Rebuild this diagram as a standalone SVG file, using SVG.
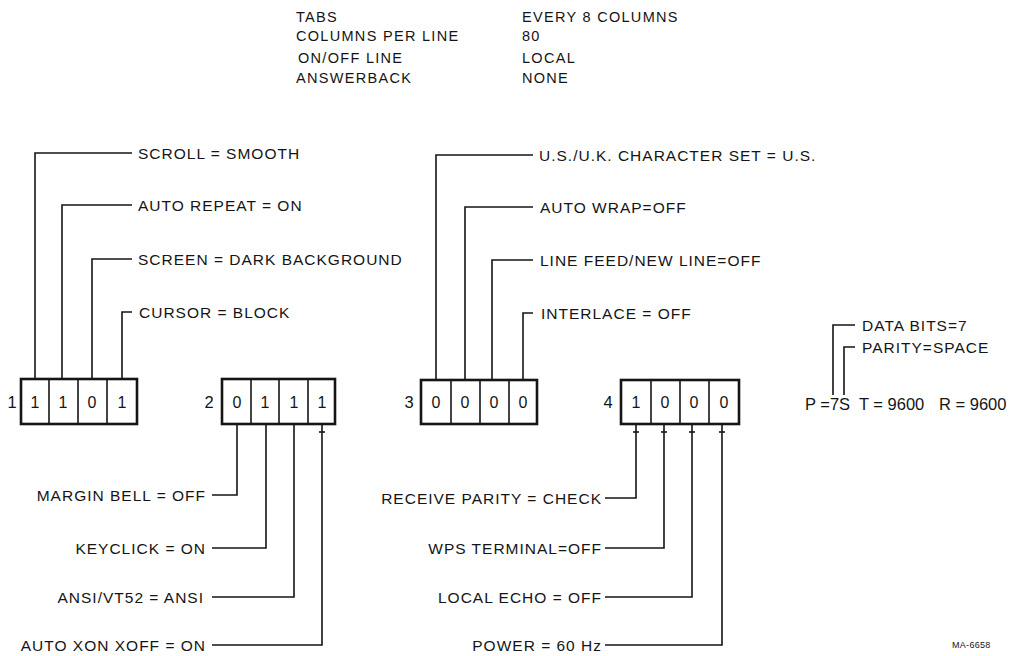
<svg xmlns="http://www.w3.org/2000/svg" width="1014" height="656" viewBox="0 0 1014 656">
<style>
text{font-family:"Liberation Sans",Arial,sans-serif;fill:#151515;font-size:15.5px;letter-spacing:1px}
.top{font-size:14.5px;letter-spacing:1.3px}
.end{text-anchor:end}
.num{font-size:16.5px;text-anchor:middle;letter-spacing:0}
.dig{font-size:16px;text-anchor:middle;letter-spacing:0}
.box{fill:#fff;stroke:#151515;stroke-width:2.6}
.div{stroke:#151515;stroke-width:1.6}
.ln{fill:none;stroke:#151515;stroke-width:1.6}
.big{font-size:16.5px;letter-spacing:0}
.small{font-size:9px;letter-spacing:0.3px}
</style>
<rect width="1014" height="656" fill="#fff"/>
<g id="settings">
<text class="top" x="296" y="22">TABS</text>
<text class="top" x="296" y="41">COLUMNS PER LINE</text>
<text class="top" x="298" y="63">ON/OFF LINE</text>
<text class="top" x="296" y="83">ANSWERBACK</text>
<text class="top" x="522" y="22">EVERY 8 COLUMNS</text>
<text class="top" x="522" y="41">80</text>
<text class="top" x="522" y="63">LOCAL</text>
<text class="top" x="522" y="83">NONE</text>
</g>
<g id="connectors">
<polyline class="ln" points="35,379 35,153 132,153"/>
<polyline class="ln" points="62,379 62,205 132,205"/>
<polyline class="ln" points="92,379 92,259 132,259"/>
<polyline class="ln" points="122,379 122,312 132,312"/>
<polyline class="ln" points="237,424 237,495 212,495"/>
<polyline class="ln" points="266,424 266,548 212,548"/>
<polyline class="ln" points="294,424 294,597 212,597"/>
<polyline class="ln" points="322,424 322,645 212,645"/>
<line class="ln" x1="319" y1="432" x2="325" y2="432"/>
<polyline class="ln" points="436,380 436,155 533,155"/>
<polyline class="ln" points="465,380 465,207 533,207"/>
<polyline class="ln" points="492,380 492,260 533,260"/>
<polyline class="ln" points="523,380 523,313 533,313"/>
<polyline class="ln" points="636,424 636,498 605,498"/>
<polyline class="ln" points="664,424 664,548 605,548"/>
<polyline class="ln" points="692,424 692,597 605,597"/>
<polyline class="ln" points="722,424 722,645 605,645"/>
<line class="ln" x1="633" y1="432" x2="639" y2="432"/>
<line class="ln" x1="661" y1="432" x2="667" y2="432"/>
<line class="ln" x1="689" y1="432" x2="695" y2="432"/>
<line class="ln" x1="719" y1="432" x2="725" y2="432"/>
<polyline class="ln" points="833,395 833,325 855,325"/>
<polyline class="ln" points="844,395 844,347 855,347"/>
</g>
<g id="switch1">
<text class="num" x="12" y="408">1</text>
<rect class="box" x="21" y="379" width="116" height="45"/>
<line class="div" x1="49" y1="379" x2="49" y2="424"/>
<line class="div" x1="78" y1="379" x2="78" y2="424"/>
<line class="div" x1="107" y1="379" x2="107" y2="424"/>
<text class="dig" x="35" y="408">1</text>
<text class="dig" x="63" y="408">1</text>
<text class="dig" x="92" y="408">0</text>
<text class="dig" x="122" y="408">1</text>
</g>
<g id="switch2">
<text class="num" x="209" y="408">2</text>
<rect class="box" x="222" y="379" width="113" height="45"/>
<line class="div" x1="251" y1="379" x2="251" y2="424"/>
<line class="div" x1="279" y1="379" x2="279" y2="424"/>
<line class="div" x1="308" y1="379" x2="308" y2="424"/>
<text class="dig" x="237" y="408">0</text>
<text class="dig" x="265" y="408">1</text>
<text class="dig" x="294" y="408">1</text>
<text class="dig" x="322" y="408">1</text>
</g>
<g id="switch3">
<text class="num" x="409" y="408">3</text>
<rect class="box" x="421" y="380" width="116" height="44"/>
<line class="div" x1="451" y1="380" x2="451" y2="424"/>
<line class="div" x1="480" y1="380" x2="480" y2="424"/>
<line class="div" x1="509" y1="380" x2="509" y2="424"/>
<text class="dig" x="436" y="408">0</text>
<text class="dig" x="465" y="408">0</text>
<text class="dig" x="494" y="408">0</text>
<text class="dig" x="523" y="408">0</text>
</g>
<g id="switch4">
<text class="num" x="608" y="408">4</text>
<rect class="box" x="621" y="380" width="118" height="44"/>
<line class="div" x1="651" y1="380" x2="651" y2="424"/>
<line class="div" x1="680" y1="380" x2="680" y2="424"/>
<line class="div" x1="709" y1="380" x2="709" y2="424"/>
<text class="dig" x="636" y="408">1</text>
<text class="dig" x="665" y="408">0</text>
<text class="dig" x="694" y="408">0</text>
<text class="dig" x="724" y="408">0</text>
</g>
<g id="labels1">
<text x="138" y="158.5">SCROLL = SMOOTH</text>
<text x="138" y="210.5">AUTO REPEAT = ON</text>
<text x="138" y="264.5">SCREEN = DARK BACKGROUND</text>
<text x="139" y="317.5">CURSOR = BLOCK</text>
</g>
<g id="labels2">
<text class="end" x="206" y="500.5">MARGIN BELL = OFF</text>
<text class="end" x="206" y="553.5">KEYCLICK = ON</text>
<text class="end" x="204" y="602.5">ANSI/VT52 = ANSI</text>
<text class="end" x="206" y="650.5">AUTO XON XOFF = ON</text>
</g>
<g id="labels3">
<text x="539" y="160.5">U.S./U.K. CHARACTER SET = U.S.</text>
<text x="540" y="212.5">AUTO WRAP=OFF</text>
<text x="540" y="265.5">LINE FEED/NEW LINE=OFF</text>
<text x="541" y="318.5">INTERLACE = OFF</text>
</g>
<g id="labels4">
<text class="end" x="602" y="503.5">RECEIVE PARITY = CHECK</text>
<text class="end" x="602" y="553.5">WPS TERMINAL=OFF</text>
<text class="end" x="602" y="602.5">LOCAL ECHO = OFF</text>
<text class="end" x="602" y="650.5">POWER = 60 Hz</text>
</g>
<g id="serial">
<text x="862" y="330.5">DATA BITS=7</text>
<text x="862" y="352.5">PARITY=SPACE</text>
<text class="big" x="805" y="410">P =7S</text>
<text class="big" x="859" y="410">T = 9600</text>
<text class="big" x="939" y="410">R = 9600</text>
</g>
<g id="figure-id">
<text class="small" x="952" y="648">MA-6658</text>
</g>
</svg>
